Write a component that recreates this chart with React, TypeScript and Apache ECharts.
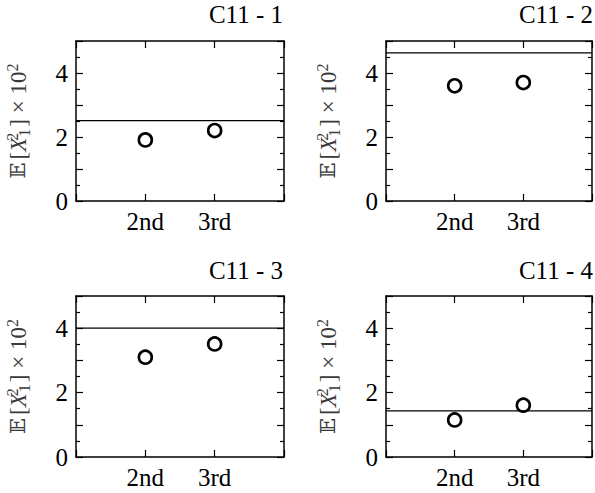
import React, { useEffect, useRef } from "react";
import * as echarts from "echarts";

const categories = ["2nd", "3rd"];
const categoryPositions = [2, 3];
const panelTitles = ["C11 - 1", "C11 - 2", "C11 - 3", "C11 - 4"];
const secondValues = [1.91, 3.6, 3.1, 1.15];
const thirdValues = [2.2, 3.7, 3.51, 1.61];
const referenceValues = [2.51, 4.63, 4.0, 1.43];
const yTickLabels = [0, 2, 4];

const FONT = "'Liberation Serif', 'DejaVu Serif', serif";

const grids = [
  { left: 76, top: 41, width: 208, height: 160 },
  { left: 386, top: 41, width: 208, height: 160 },
  { left: 76, top: 296, width: 208, height: 161 },
  { left: 386, top: 296, width: 208, height: 161 },
];

const titlePos = [
  { right: 312, top: 2 },
  { right: 2, top: 2 },
  { right: 312, top: 258 },
  { right: 2, top: 258 },
];

export default function App() {
  const ref = useRef<HTMLDivElement>(null);
  useEffect(() => {
    if (!ref.current) return;
    const chart = echarts.init(ref.current, undefined, { renderer: "svg" });
    const axisLine = { show: true, onZero: false, lineStyle: { color: "#000", width: 1.5 } };
    const xAxes: any[] = [];
    const yAxes: any[] = [];
    const series: any[] = [];
    const nameColor = "#3a3a3a";
    grids.forEach((g, i) => {
      const baseX = {
        type: "value",
        gridIndex: i,
        min: 1,
        max: 4,
        interval: 1,
        axisLine,
        splitLine: { show: false },
        axisTick: { show: true, inside: true, length: 7, lineStyle: { color: "#000", width: 1.2 } },
      };
      xAxes.push({
        ...baseX,
        position: "bottom",
        axisLabel: {
          show: true,
          margin: 8,
          color: "#000",
          fontFamily: FONT,
          fontSize: 25,
          formatter: (v: number) => {
            const k = categoryPositions.indexOf(v);
            return k >= 0 ? categories[k] : "";
          },
        },
      });
      xAxes.push({ ...baseX, position: "top", axisLabel: { show: false } });
      const baseY = {
        type: "value",
        gridIndex: i,
        min: 0,
        max: 5,
        interval: 1,
        axisLine,
        splitLine: { show: false },
        axisTick: { show: true, inside: true, length: 7, lineStyle: { color: "#000", width: 1.2 } },
        minorTick: { show: true, splitNumber: 2, length: 4, lineStyle: { color: "#000", width: 1.2 } },
        minorSplitLine: { show: false },
      };
      yAxes.push({
        ...baseY,
        position: "left",
        name: "{e|𝔼}{b|[}{x|X}{sup|2}{sub|1}{b|]}{t| × 10}{sup2|2}",
        nameLocation: "middle",
        nameRotate: 90,
        nameGap: 44,
        nameTextStyle: {
          color: nameColor,
          fontFamily: FONT,
          fontSize: 23,
          lineHeight: 28,
          rich: {
            e: { fontFamily: "'DejaVu Serif', 'DejaVu Sans', serif", fontSize: 21, lineHeight: 28, color: nameColor, padding: [0, 3, 0, 0] },
            b: { fontFamily: FONT, fontSize: 23, lineHeight: 28, color: nameColor },
            x: { fontFamily: FONT, fontStyle: "italic", fontSize: 23, lineHeight: 28, color: nameColor, padding: [0, 1, 0, 0] },
            sup: { fontFamily: FONT, fontSize: 16, lineHeight: 15, verticalAlign: "top", color: nameColor, width: 0.1 },
            sub: { fontFamily: FONT, fontSize: 16, lineHeight: 15, verticalAlign: "bottom", color: nameColor, padding: [0, 2, 0, 0] },
            t: { fontFamily: FONT, fontSize: 23, lineHeight: 28, color: nameColor },
            sup2: { fontFamily: FONT, fontSize: 16, lineHeight: 15, verticalAlign: "top", color: nameColor },
          },
        },
        axisLabel: {
          show: true,
          margin: 8,
          color: "#000",
          fontFamily: FONT,
          fontSize: 25,
          formatter: (v: number) => (yTickLabels.indexOf(v) >= 0 ? String(v) : ""),
        },
      });
      yAxes.push({ ...baseY, position: "right", axisLabel: { show: false } });
      series.push({
        type: "line",
        xAxisIndex: i * 2,
        yAxisIndex: i * 2,
        data: [
          [1, referenceValues[i]],
          [4, referenceValues[i]],
        ],
        symbol: "none",
        lineStyle: { color: "#000", width: 1.3 },
        z: 2,
      });
      series.push({
        type: "scatter",
        xAxisIndex: i * 2,
        yAxisIndex: i * 2,
        data: [
          [categoryPositions[0], secondValues[i]],
          [categoryPositions[1], thirdValues[i]],
        ],
        symbol: "circle",
        symbolSize: 13,
        itemStyle: { color: "rgba(0,0,0,0)", borderColor: "#000", borderWidth: 2.6, opacity: 1 },
        z: 3,
      });
    });
    chart.setOption({
      animation: false,
      backgroundColor: "#fff",
      title: panelTitles.map((t, i) => ({
        text: t,
        right: titlePos[i].right,
        top: titlePos[i].top,
        padding: 0,
        textStyle: { color: "#000", fontFamily: FONT, fontSize: 25, fontWeight: "normal" },
      })),
      grid: grids,
      xAxis: xAxes,
      yAxis: yAxes,
      series,
    });
    return () => chart.dispose();
  }, []);
  return (
    <div
      ref={ref}
      style={{ position: "fixed", left: 0, top: 0, width: 595, height: 493 }}
    />
  );
}
